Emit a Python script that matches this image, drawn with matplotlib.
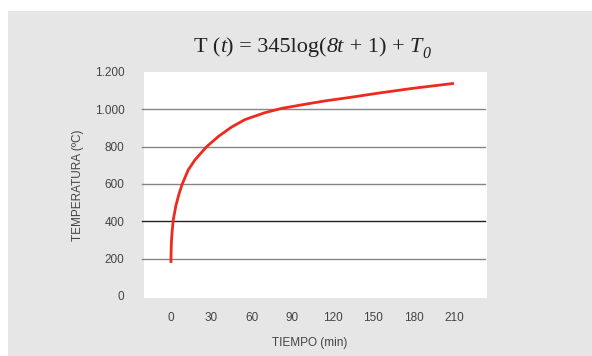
import matplotlib
matplotlib.use("Agg")
import matplotlib.pyplot as plt
from matplotlib.patches import Rectangle

# values
tiempo = [0, 0.1, 0.3, 0.6, 1.0, 1.7, 3.7, 5.9, 8.4, 12.8, 17.8, 26.5, 35.1, 40.1, 45.0,
          54.9, 69.7, 82.1, 99.4, 114.2, 133, 155, 180, 210]
temperatura = [177, 230, 280, 320, 355, 407, 485, 545, 600, 675, 729, 800, 854, 880, 905,
               945, 982, 1005, 1027, 1045, 1064, 1088, 1113, 1139]

x_ticks = [0, 30, 60, 90, 120, 150, 180, 210]
y_ticks = [0, 200, 400, 600, 800, 1000, 1200]
y_labels = ["0", "200", "400", "600", "800", "1.000", "1.200"]
grid_y = [200, 400, 600, 800, 1000]

# title pieces: (text, italic, subscript)
title_parts = [("T (", False, False), ("t", True, False), (") = 345log(", False, False),
               ("8t", True, False), (" + 1) + ", False, False), ("T", True, False),
               ("0", True, True)]

fig = plt.figure(figsize=(5.92, 3.56), dpi=100)
fig.patches.append(Rectangle((8 / 592, 0), 1, 1 - 11 / 356, transform=fig.transFigure,
                             facecolor='#e6e6e6', edgecolor='none', zorder=-10))

ax = fig.add_axes([144 / 592, 58 / 356, 343 / 592, 226 / 356])
ax.set_facecolor('white')
for s in ax.spines.values():
    s.set_visible(False)

for gy in grid_y:
    col = '#222222' if gy == 400 else '#858585'
    ax.axhline(gy, xmin=-0.006, xmax=0.994, color=col, lw=1.0, clip_on=False, zorder=1)

ax.plot(tiempo, temperatura, color='#ee2a1e', lw=2.0, solid_capstyle='butt', zorder=3)

ax.set_xlim(-20, 234.5)
ax.set_ylim(-11, 1200)
ax.set_xticks(x_ticks)
ax.set_yticks(y_ticks)
ax.set_yticklabels(y_labels)
ax.tick_params(length=0, labelsize=8.5, labelcolor='#444444')
ax.tick_params(axis='y', pad=14)
ax.tick_params(axis='x', pad=10)
for lab in ax.get_xticklabels() + ax.get_yticklabels():
    lab.set_family('Liberation Sans')

fig.text(78 / 592, 1 - 185 / 356, "TEMPERATURA (ºC)", rotation=90, ha='center', va='center',
         fontsize=8.5, color='#444444', family='Liberation Sans')
fig.text(310 / 592, 1 - 343 / 356, "TIEMPO (min)", ha='center', va='center',
         fontsize=8.5, color='#444444', family='Liberation Sans')

# title drawn piece by piece so italics match the reference
renderer = fig.canvas.get_renderer()
texts = []
for txt, ital, sub in title_parts:
    t = fig.text(0, 0, txt, fontsize=11.5 if sub else 16, family='Liberation Serif',
                 style='italic' if ital else 'normal', color='#222222', va='baseline')
    texts.append((t, sub))
widths = [t.get_window_extent(renderer).width for t, _ in texts]
x0 = 312 - sum(widths) / 2
base = 356 - 52
for (t, sub), w in zip(texts, widths):
    t.set_position((x0 / 592, (base - (6 if sub else 0)) / 356))
    x0 += w

fig.savefig("out.png", dpi=100, facecolor='white')
